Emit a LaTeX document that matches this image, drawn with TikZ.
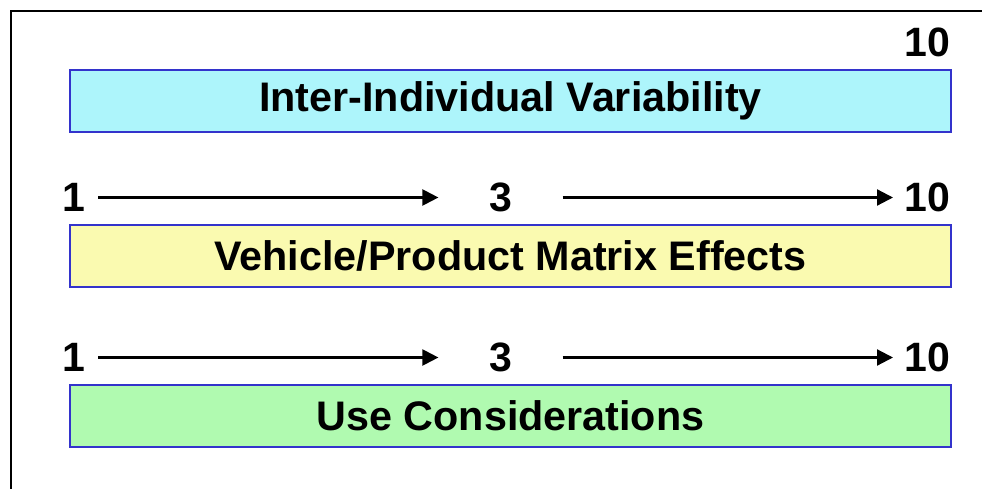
\documentclass[tikz,border=0pt]{standalone}
\usepackage{fontspec}
\setmainfont{Liberation Sans}
\usetikzlibrary{arrows.meta}
\definecolor{boxblue}{RGB}{51,51,204}
\definecolor{fillcyan}{RGB}{173,245,251}
\definecolor{fillyellow}{RGB}{250,250,176}
\definecolor{fillgreen}{RGB}{176,250,176}
\tikzset{
  bandbox/.style={draw=boxblue, line width=2pt, minimum width=881pt, minimum height=62pt, inner sep=0pt,
    font=\fontsize{41.3}{48}\selectfont\bfseries},
  numlabel/.style={inner sep=0pt, font=\fontsize{41}{48}\selectfont\bfseries},
  arr/.style={line width=2.2pt, -{Triangle[length=16pt,width=16pt]}}
}
\begin{document}
\begin{tikzpicture}[x=1pt,y=-1pt]
\useasboundingbox (0,0) rectangle (982,489);
% outer frame (clipped at right and bottom)
\draw[line width=2pt] (11,489) -- (11,11) -- (982,11);
% band 1
\node[numlabel, anchor=east] (topten) at (950,42) {10};
\node[bandbox, fill=fillcyan] (b1) at (510.5,101) {Inter-Individual Variability};
% band 2
\node[numlabel] (one2) at (73.5,197.5) {1};
\node[numlabel] (three2) at (501,197.5) {3};
\node[numlabel, anchor=east] (ten2) at (950,197.5) {10};
\draw[arr] ([xshift=13pt]one2.east) -- ([xshift=-51pt]three2.west);
\draw[arr] ([xshift=50pt]three2.east) -- ([xshift=-11pt]ten2.west);
\node[bandbox, fill=fillyellow] (b2) at (510.5,256) {Vehicle/Product Matrix Effects};
% band 3
\node[numlabel] (one3) at (73.5,357.5) {1};
\node[numlabel] (three3) at (501,357.5) {3};
\node[numlabel, anchor=east] (ten3) at (950,357.5) {10};
\draw[arr] ([xshift=13pt]one3.east) -- ([xshift=-51pt]three3.west);
\draw[arr] ([xshift=50pt]three3.east) -- ([xshift=-11pt]ten3.west);
\node[bandbox, fill=fillgreen] (b3) at (510.5,416) {Use Considerations};
\end{tikzpicture}
\end{document}
